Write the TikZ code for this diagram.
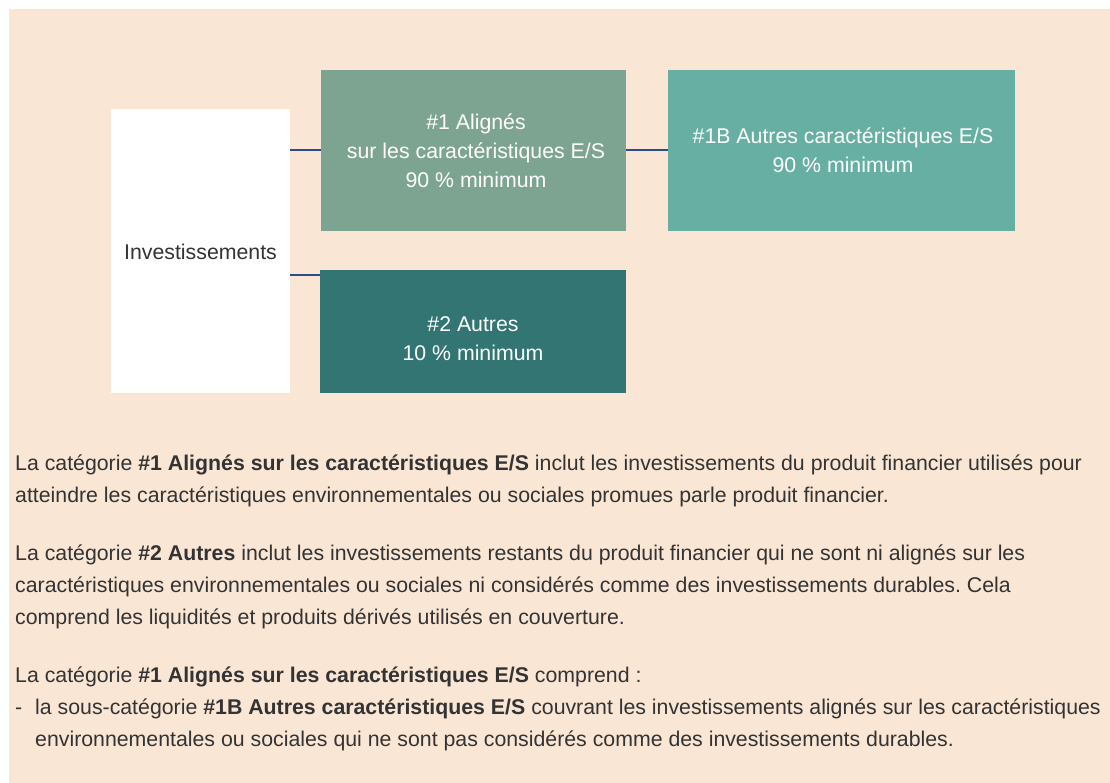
\documentclass[tikz,border=0pt]{standalone}
\usepackage{fontspec}
\setmainfont{Liberation Sans}
\frenchspacing
\begin{document}
\begin{tikzpicture}[x=1pt,y=-1pt,
  box/.style={draw=none,inner sep=0pt,text=white,align=center,font=\fontsize{21.3}{29}\selectfont},
  link/.style={draw=linkblue,line width=2.2pt},
  para/.style={anchor=base west,inner sep=0pt,text=bodygray,font=\fontsize{21.3}{24}\selectfont}]
\definecolor{peach}{HTML}{FAE6D4}
\definecolor{linkblue}{HTML}{2B4C8C}
\definecolor{bodygray}{HTML}{333333}
\definecolor{cA}{HTML}{7DA491}
\definecolor{cB}{HTML}{66AFA2}
\definecolor{cC}{HTML}{327573}
\useasboundingbox (0,0) rectangle (1110,783);
\fill[white] (0,0) rectangle (1110,783);
\fill[peach] (9,9) rectangle (1110,783);
% boxes
\fill[white] (111,109) rectangle (290,393);
\fill[cA] (321,70) rectangle (626,231);
\fill[cB] (668,70) rectangle (1015,231);
\fill[cC] (320,270) rectangle (626,393);
\node[box,text=bodygray,anchor=base] (inv) at (200.5,260) {Investissements};
\node[box,anchor=base] (a1) at (476,188) {\#1 Alignés\\sur les caractéristiques E/S\\90~\% minimum};
\node[box,anchor=base] (b1) at (843,173) {\#1B Autres caractéristiques E/S\\90~\% minimum};
\node[box,anchor=base] (c2) at (473,360) {\#2 Autres\\10~\% minimum};
\coordinate (i1) at (290,150);
\coordinate (i2) at (290,275);
\coordinate (a1w) at (321,150);
\coordinate (a1e) at (626,150);
\coordinate (b1w) at (668,150);
\coordinate (c2w) at (320,275);
\draw[link] (i1) -- (a1w);
\draw[link] (a1e) -- (b1w);
\draw[link] (i2) -- (c2w);
% paragraphs
\node[para] (p1a) at (15,470.5) {La catégorie \textbf{\#1 Alignés sur les caractéristiques E/S} inclut les investissements du produit financier utilisés pour};
\node[para] (p1b) at (15,502.5) {atteindre les caractéristiques environnementales ou sociales promues parle produit financier.};
\node[para] (p2a) at (15,560.5) {La catégorie \textbf{\#2 Autres} inclut les investissements restants du produit financier qui ne sont ni alignés sur les};
\node[para] (p2b) at (15,592.5) {caractéristiques environnementales ou sociales ni considérés comme des investissements durables. Cela};
\node[para] (p2c) at (15,624.5) {comprend les liquidités et produits dérivés utilisés en couverture.};
\node[para] (p3a) at (15,682.5) {La catégorie \textbf{\#1 Alignés sur les caractéristiques E/S} comprend :};
\node[para] (p3d) at (15,714) {-};
\node[para] (p3b) at (35,714) {la sous-catégorie \textbf{\#1B Autres caractéristiques E/S} couvrant les investissements alignés sur les caractéristiques};
\node[para] (p3c) at (35,746) {environnementales ou sociales qui ne sont pas considérés comme des investissements durables.};
\end{tikzpicture}
\end{document}
